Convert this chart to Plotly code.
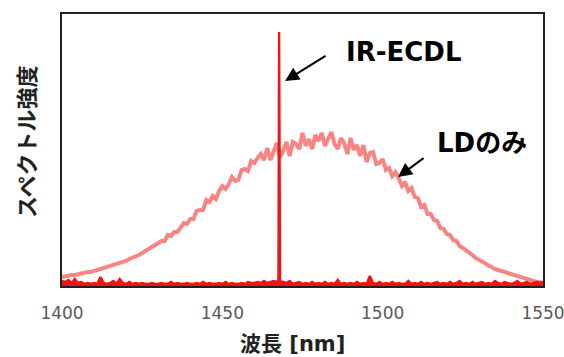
import plotly.graph_objects as go

# ---- data (intensity in arbitrary units) ----
ld_wavelength = list(range(1400, 1551))  # nm, 1 nm steps
ld_intensity = [
    9, 10, 10, 11, 11,
    12, 13, 13, 14, 14,
    15, 16, 17, 17, 18,
    19, 20, 22, 22, 24,
    25, 27, 28, 30, 31,
    33, 35, 36, 39, 40,
    42, 45, 45, 51, 50,
    54, 54, 59, 63, 62,
    67, 67, 75, 76, 76,
    86, 84, 90, 87, 95,
    100, 97, 102, 109, 105,
    106, 116, 117, 115, 125,
    123, 128, 132, 126, 138,
    126, 135, 143, 129, 135,
    144, 130, 144, 142, 137,
    153, 140, 147, 137, 151,
    145, 153, 140, 147, 154,
    142, 137, 148, 143, 132,
    148, 136, 141, 130, 141,
    124, 133, 134, 122, 123,
    127, 116, 118, 110, 114,
    108, 100, 104, 95, 98,
    89, 88, 79, 81, 72,
    72, 66, 65, 58, 57,
    52, 51, 46, 45, 40,
    38, 36, 33, 31, 28,
    26, 24, 22, 21, 19,
    17, 16, 15, 13, 12,
    11, 10, 9, 8, 7,
    6, 5, 5, 4, 4,
    3,
]

ecdl_wavelength = (list(range(1400, 1468)) + [1467.5, 1467.7, 1467.9]
                   + list(range(1468, 1551)))
ecdl_intensity = [
    5, 4, 6, 3, 7, 3, 4, 2, 3, 2,
    3, 2, 9, 3, 2, 3, 5, 2, 7, 3,
    2, 4, 2, 3, 2, 3, 2, 2, 3, 2,
    2, 3, 2, 2, 4, 2, 3, 2, 2, 3,
    2, 2, 3, 2, 4, 2, 3, 2, 2, 3,
    2, 4, 2, 3, 2, 2, 3, 2, 4, 3,
    3, 4, 3, 5, 3, 4, 5, 4,
    6, 254, 9,
    5, 4, 3, 5, 2, 3, 4, 2, 3, 2, 4, 2,
    3, 2, 4, 2, 3, 2, 6, 2, 3, 2,
    3, 2, 4, 2, 3, 2, 10, 3, 2, 4,
    2, 3, 2, 4, 2, 3, 2, 2, 5, 2,
    3, 2, 4, 2, 3, 2, 3, 4, 2, 3,
    2, 4, 2, 3, 5, 2, 3, 2, 4, 2,
    3, 4, 2, 3, 2, 5, 3, 2, 4, 3,
    2, 3, 5, 2, 3, 4, 2, 3, 4, 3,
    4,
]

x_ticks = [1400, 1450, 1500, 1550]
x_title = "波長 [nm]"
y_title = "スペクトル強度"
label_ecdl = "IR-ECDL"
label_ld = "LDのみ"

# ---- figure ----
W, H = 564, 357
ML, MR, MT, MB = 62, 21, 14, 71
PW, PH = W - ML - MR, H - MT - MB


def px_to_paper(px, py):
    return (px - ML) / PW, (H - MB - py) / PH


fig = go.Figure()
fig.add_trace(go.Scatter(x=ld_wavelength, y=ld_intensity, mode="lines",
                         line=dict(color="#F88484", width=4), hoverinfo="skip"))
fig.add_trace(go.Scatter(x=ecdl_wavelength, y=ecdl_intensity, mode="lines",
                         fill="tozeroy", fillcolor="#F01414",
                         line=dict(color="#F01414", width=2.4), hoverinfo="skip"))

latin = "DejaVu Sans, Noto Sans CJK JP"

annotations = []
# y title
xp, yp = px_to_paper(25, 142)
annotations.append(dict(text=f"<b>{y_title}</b>", xref="paper", yref="paper", x=xp, y=yp,
                        xanchor="center", yanchor="middle", textangle=-90, showarrow=False,
                        font=dict(family="Noto Sans CJK JP", size=22, color="#222")))
# x title
xp, yp = px_to_paper(292, 344)
annotations.append(dict(text=f"<b>{x_title}</b>", xref="paper", yref="paper", x=xp, y=yp,
                        xanchor="center", yanchor="middle", showarrow=False,
                        font=dict(family=latin, size=21, color="#222")))
# labels
xp, yp = px_to_paper(403, 52)
annotations.append(dict(text=f"<b>{label_ecdl}</b>", xref="paper", yref="paper", x=xp, y=yp,
                        xanchor="center", yanchor="middle", showarrow=False,
                        font=dict(family=latin, size=26, color="#000")))
xp, yp = px_to_paper(482, 143)
annotations.append(dict(text=f"<b>{label_ld}</b>", xref="paper", yref="paper", x=xp, y=yp,
                        xanchor="center", yanchor="middle", showarrow=False,
                        font=dict(family=latin, size=26, color="#000")))
# arrows
for (tx, ty), (sx, sy) in [((285, 81), (327, 55)), ((398, 177), (425, 157))]:
    xp, yp = px_to_paper(tx, ty)
    annotations.append(dict(text="", xref="paper", yref="paper", x=xp, y=yp,
                            ax=sx - tx, ay=sy - ty, showarrow=True, arrowhead=2,
                            arrowsize=1.4, arrowwidth=2, arrowcolor="#000"))

fig.update_layout(
    width=W, height=H,
    margin=dict(l=ML, r=MR, t=MT, b=MB, pad=0, autoexpand=False),
    paper_bgcolor="white", plot_bgcolor="white",
    showlegend=False,
    annotations=annotations,
    xaxis=dict(range=[1400, 1550], tickvals=x_ticks, showgrid=False, zeroline=False,
               showline=True, mirror=True, linecolor="#222", linewidth=1.5,
               ticks="outside", ticklen=11, tickcolor="rgba(0,0,0,0)",
               ticklabeloverflow="allow", automargin=False,
               tickfont=dict(family=latin, size=17, color="#595959")),
    yaxis=dict(range=[0, PH], showticklabels=False, showgrid=False, zeroline=False,
               showline=True, mirror=True, linecolor="#222", linewidth=1.5, ticks="",
               automargin=False),
)

fig.write_html("out.html", config={"displayModeBar": False})
